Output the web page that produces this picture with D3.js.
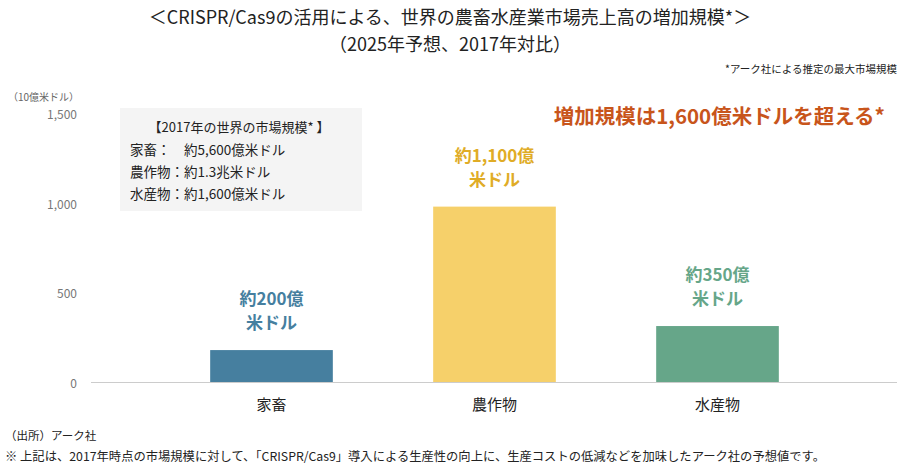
<!DOCTYPE html><html><head><meta charset="utf-8">
<script src="https://cdn.jsdelivr.net/npm/d3@7"></script>
<style>body{margin:0;background:#fff}text{font-family:"Noto Sans CJK JP",sans-serif}</style></head><body>
<svg id="c" width="900" height="464"></svg>
<script>
const categories=["家畜","農作物","水産物"];
const values=[178,978,312];
const colors=["#467f9f","#f6d06a","#66a689"];
const barLabels=[["約200億","米ドル"],["約1,100億","米ドル"],["約350億","米ドル"]];
const labelColors=["#467f9f","#e0ac26","#66a689"];
const yTicks=[0,500,1000,1500];
const boxLines=["家畜：　約5,600億米ドル","農作物：約1.3兆米ドル","水産物：約1,600億米ドル"];

const svg=d3.select("#c");
const x=d3.scaleBand().domain(categories).range([160,829]).paddingInner(0.45).paddingOuter(0.225);
const y=d3.scaleLinear().domain([0,1500]).range([382,113]);

svg.append("text").attr("x",450).attr("y",24).attr("text-anchor","middle").attr("font-size",18).attr("fill","#222").text("＜CRISPR/Cas9の活用による、世界の農畜水産業市場売上高の増加規模*＞");
svg.append("text").attr("x",450).attr("y",51).attr("text-anchor","middle").attr("font-size",18).attr("fill","#222").text("（2025年予想、2017年対比）");
svg.append("text").attr("x",897).attr("y",73).attr("text-anchor","end").attr("font-size",10.5).attr("fill","#222").text("*アーク社による推定の最大市場規模");
svg.append("text").attr("x",8).attr("y",101).attr("font-size",10).attr("fill","#666").text("（10億米ドル）");

const ya=svg.append("g").attr("transform","translate(80,0)").call(d3.axisLeft(y).tickValues(yTicks).tickSize(0).tickFormat(d3.format(",")));
ya.select(".domain").remove();
ya.selectAll("text").attr("font-size",12).attr("fill","#777").attr("dy","0.45em").style("font-family","Noto Sans CJK JP");

svg.selectAll("rect.bar").data(categories).join("rect").attr("x",d=>x(d)).attr("width",x.bandwidth())
 .attr("y",(d,i)=>y(values[i])).attr("height",(d,i)=>y(0)-y(values[i])).attr("fill",(d,i)=>colors[i]);
svg.append("line").attr("x1",91).attr("x2",897).attr("y1",382.5).attr("y2",382.5).attr("stroke","#ccc");

categories.forEach((c,i)=>{
  const cx=x(c)+x.bandwidth()/2;
  svg.append("text").attr("x",cx).attr("y",410).attr("text-anchor","middle").attr("font-size",15).attr("fill","#222").text(c);
  const top=y(values[i]);
  barLabels[i].forEach((t,j)=>svg.append("text").attr("x",cx).attr("y",top-45+j*24).attr("text-anchor","middle")
    .attr("font-size",17).attr("font-weight","bold").attr("fill",labelColors[i]).text(t));
});

svg.append("rect").attr("x",120).attr("y",108).attr("width",242).attr("height",103).attr("fill","#f4f4f4");
svg.append("text").attr("x",239).attr("y",132).attr("text-anchor","middle").attr("font-size",13).attr("fill","#222").text("【2017年の世界の市場規模* 】");
boxLines.forEach((t,i)=>svg.append("text").attr("x",130).attr("y",155+i*22).attr("font-size",13.5).attr("fill","#222").text(t));

svg.append("text").attr("x",885).attr("y",124).attr("text-anchor","end").attr("font-size",20.5).attr("font-weight","bold").attr("fill","#c8551b").text("増加規模は1,600億米ドルを超える*");

svg.append("text").attr("x",5).attr("y",440).attr("font-size",11.5).attr("fill","#222").text("（出所）アーク社");
svg.append("text").attr("x",5).attr("y",461).attr("font-size",12.3).attr("fill","#222").text("※  上記は、2017年時点の市場規模に対して、「CRISPR/Cas9」導入による生産性の向上に、生産コストの低減などを加味したアーク社の予想値です。");
</script></body></html>
